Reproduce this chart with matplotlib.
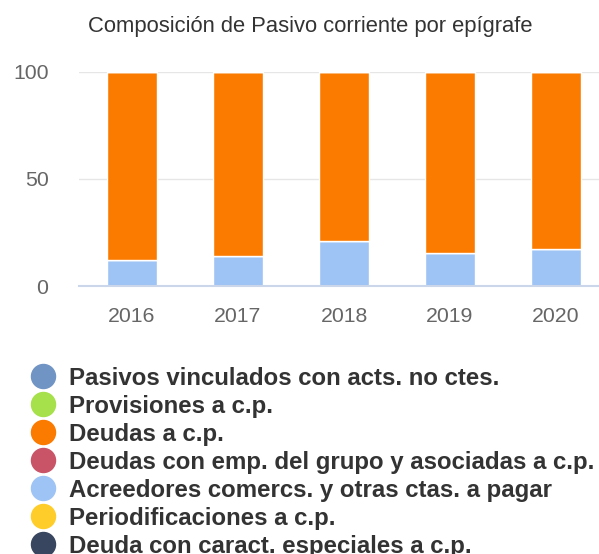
import matplotlib
matplotlib.use('Agg')
from matplotlib import pyplot as plt
from matplotlib.lines import Line2D

plt.rcParams['font.family'] = ['Liberation Sans', 'DejaVu Sans']

# Data (percent of current liabilities)
years = ['2016', '2017', '2018', '2019', '2020']
series_names = ['Pasivos vinculados con acts. no ctes.',
                'Provisiones a c.p.',
                'Deudas a c.p.',
                'Deudas con emp. del grupo y asociadas a c.p.',
                'Acreedores comercs. y otras ctas. a pagar',
                'Periodificaciones a c.p.',
                'Deuda con caract. especiales a c.p.']
colors = ['#7094c4', '#a6e04a', '#fb7a00', '#c95468', '#9ec4f5', '#ffcd2a', '#394660']

pasivos_vinc = [0, 0, 0, 0, 0]
provisiones = [0, 0, 0, 0, 0]
deudas = [87.8, 85.9, 79.2, 84.8, 82.9]
deudas_grupo = [0, 0, 0, 0, 0]
acreedores = [12.2, 14.1, 20.8, 15.2, 17.1]
periodif = [0, 0, 0, 0, 0]
deuda_esp = [0, 0, 0, 0, 0]

values = [pasivos_vinc, provisiones, deudas, deudas_grupo, acreedores, periodif, deuda_esp]

fig = plt.figure(figsize=(5.99, 5.54), dpi=100)
W, H = 599, 554
ax = fig.add_axes([79 / W, 1 - 286 / H, (W - 79) / W, (286 - 71.5) / H])

# highcharts stacks the first series on top, so draw from the last one up
x = range(len(years))
bottom = [0] * len(years)
for vals, col in zip(values[::-1], colors[::-1]):
    ax.bar(x, vals, width=0.472, bottom=bottom, color=col, edgecolor='white',
           linewidth=1, zorder=3)
    bottom = [b + v for b, v in zip(bottom, vals)]

ax.set_xlim(-0.5, (W - 79) / 106 - 0.5)
ax.set_ylim(0, 100)
ax.set_yticks([0, 50, 100])
ax.set_xticks(list(x))
ax.set_xticklabels(years)
ax.grid(axis='y', color='#e6e6e6', linewidth=1, zorder=0)
ax.set_axisbelow(True)
for s in ['top', 'right', 'left']:
    ax.spines[s].set_visible(False)
ax.spines['bottom'].set_color('#ccd6eb')
ax.spines['bottom'].set_linewidth(1.5)
ax.spines['bottom'].set_zorder(4)
ax.tick_params(axis='y', length=0, pad=22, labelsize=15.3, labelcolor='#666666')
ax.tick_params(axis='x', length=0, pad=15, labelsize=15.3, labelcolor='#666666')

fig.text(310.5 / W, 1 - 32 / H, 'Composición de Pasivo corriente por epígrafe',
         ha='center', va='baseline', fontsize=15.8, color='#333333')

# legend drawn by hand, one row every 28 px
for i, (name, col) in enumerate(zip(series_names, colors)):
    yc = 1 - (376 + 28 * i) / H
    yb = 1 - (385 + 28 * i) / H
    fig.add_artist(Line2D([43 / W], [yc], marker='o', markersize=17.3, color=col,
                          linestyle='none', transform=fig.transFigure))
    fig.text(69 / W, yb, name, ha='left', va='baseline', fontsize=17.3,
             fontweight='bold', color='#333333')

fig.savefig('out.png', dpi=100)
